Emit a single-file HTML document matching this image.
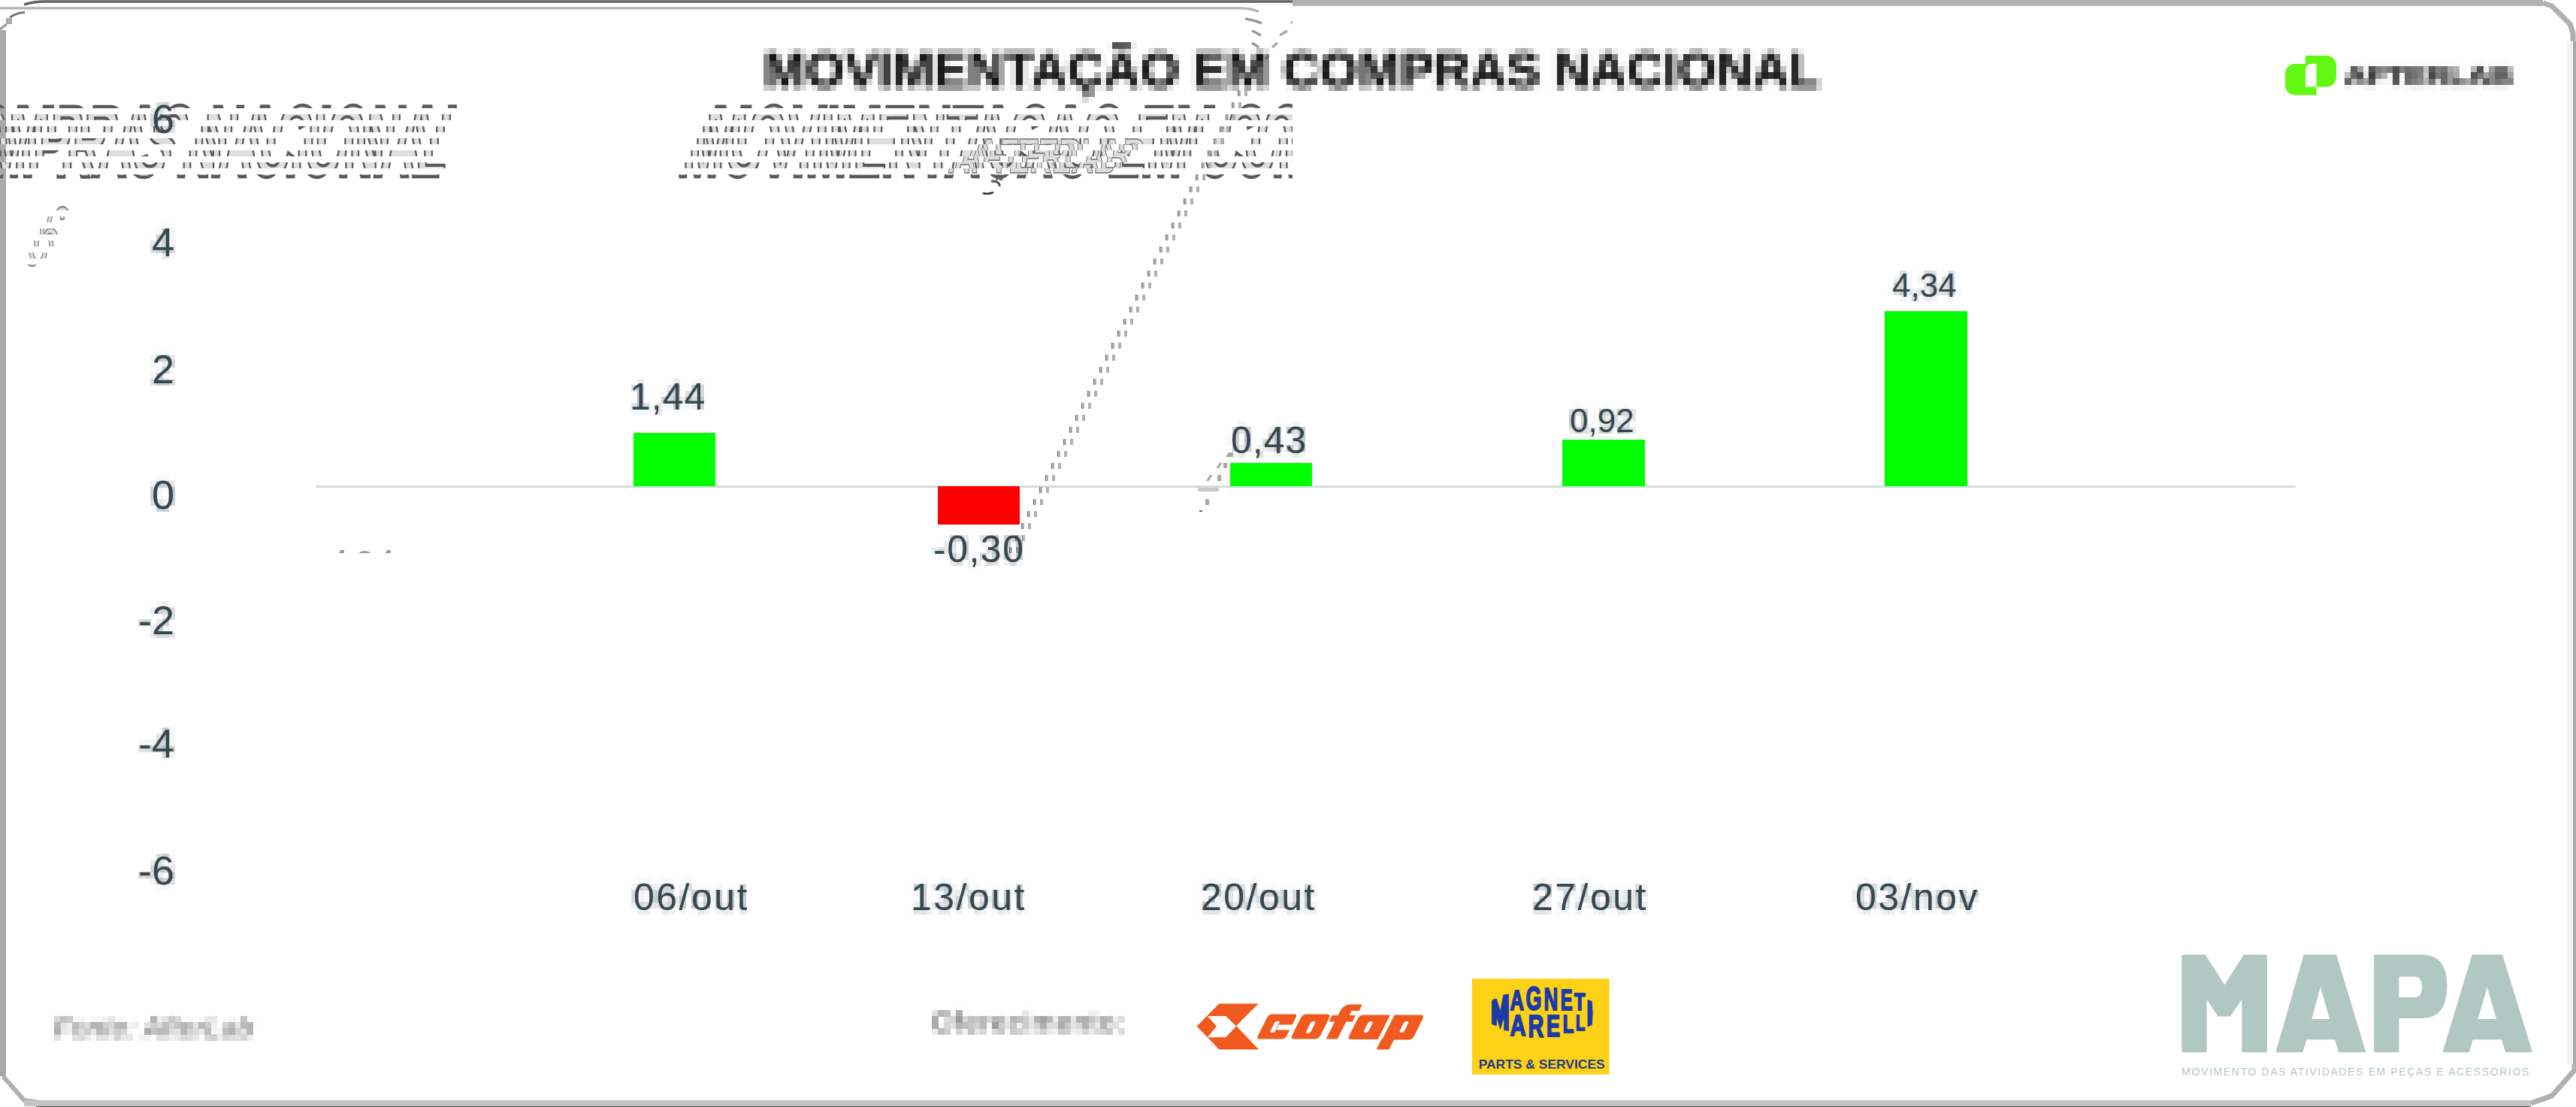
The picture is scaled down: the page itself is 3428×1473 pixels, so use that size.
<!DOCTYPE html>
<html><head><meta charset="utf-8">
<style>
html,body{margin:0;padding:0;background:#fff;}
body{width:3428px;height:1473px;position:relative;overflow:hidden;font-family:"Liberation Sans",sans-serif;}
.a{position:absolute;white-space:nowrap;}
.ylab{position:absolute;left:-300px;width:300px;text-align:right;font-size:54px;line-height:54px;color:#37484f;}
.dl{position:absolute;font-size:50px;line-height:50px;color:#37484f;white-space:nowrap;}
.xl{position:absolute;font-size:50px;line-height:50px;color:#37484f;letter-spacing:2.5px;white-space:nowrap;}
.bar{position:absolute;background:#00ff00;}
#glitch{position:absolute;left:0;top:0;width:1720px;height:300px;}
.gb{position:absolute;left:0;width:1720px;height:8px;overflow:hidden;}
.gb .g{position:absolute;font-size:67px;line-height:67px;font-weight:bold;color:#dedede;-webkit-text-stroke:2.2px #5a5a5a;white-space:nowrap;transform-origin:0 0;transform:scaleY(2.02);}
.g6{position:absolute;font-size:54px;line-height:54px;color:#dcdcdc;-webkit-text-stroke:1.2px #8a8a8a;transform-origin:0 0;transform:scaleY(2.05);}
.dash{position:absolute;width:4px;height:8px;background:#b0b0b0;}
</style></head>
<body>
<svg width="0" height="0" style="position:absolute;left:0;top:0">
 <filter id="px" x="0" y="0" width="100%" height="100%" color-interpolation-filters="sRGB">
  <feGaussianBlur in="SourceGraphic" stdDeviation="2.6" result="b"/>
  <feFlood x="4" y="4" width="1" height="1" flood-color="#000" result="f"/>
  <feComposite in="f" in2="f" width="8" height="8" result="c"/>
  <feTile in="c" result="t"/>
  <feComposite in="b" in2="t" operator="in" result="s"/>
  <feMorphology in="s" operator="dilate" radius="4"/>
 </filter>
</svg>
<!-- ===== borders ===== -->
<svg class="a" style="left:0;top:0" width="1720" height="100" viewBox="0 0 1720 100">
 <path d="M32 6 Q45 2 60 2 H1720" stroke="#636363" stroke-width="3.5" fill="none"/>
 <path d="M0 10.8 H1651 Q1665 11 1675 15.5" stroke="#b3b3b3" stroke-width="3.2" fill="none"/>
 <path d="M13 23 Q22 17 33 16.5" stroke="#777" stroke-width="3" fill="none"/>
 <rect x="8" y="24" width="8" height="8" fill="#a8a8a8"/>
 <path d="M0 39 L9 32" stroke="#999" stroke-width="3" fill="none"/>
 <path d="M1657 25 Q1670 27 1679 31 M1666 41 Q1673 44 1678 47 M1666 57 Q1671 60 1675 63" stroke="#999" stroke-width="3.5" fill="none"/>
 <path d="M1720 29 L1718 31 M1713 41 L1703 47 M1700 57 L1693 63 M1688 73 L1684 79" stroke="#aaa" stroke-width="3.5" fill="none"/>
 
</svg>
<div class="a" style="left:1720px;top:0;width:1664px;height:8px;background:#b2b2b2;"></div>
<svg class="a" style="left:3376px;top:0" width="52" height="60" viewBox="0 0 52 60"><path d="M8 4 L20 8 L44 32 L48 44 L48 56" stroke="#b0b0b0" stroke-width="7" fill="none"/></svg>
<div class="a" style="left:0;top:40px;width:8px;height:1392px;background:#a9a9a9;"></div>
<div class="a" style="left:3416px;top:55px;width:8px;height:1361px;background:#f2f2f2;"></div>
<div class="a" style="left:3424px;top:55px;width:4px;height:1361px;background:#aaaaaa;"></div>
<svg class="a" style="left:0;top:1424px" width="60" height="49" viewBox="0 0 60 49"><path d="M4 8 L32 40 L60 44" stroke="#b0b0b0" stroke-width="6" fill="none"/></svg>
<svg class="a" style="left:3360px;top:1410px" width="68" height="63" viewBox="0 0 68 63"><path d="M66 6 L66 14 L36 48 L8 58" stroke="#b0b0b0" stroke-width="7" fill="none"/></svg>
<div class="a" style="left:32px;top:1464px;width:3336px;height:8px;background:#c4c4c4;"></div>
<div class="a" style="left:48px;top:1472px;width:3320px;height:1px;background:#555;"></div>

<!-- ===== glitch copy of title ===== -->
<div id="glitch">
<div class="gb" style="top:136px"><div class="g" style="top:-16.2px;left:948px">MOVIMENTAÇÃO EM COMPRAS NACIONAL</div><div class="g" style="top:-16.2px;left:-772px">MOVIMENTAÇÃO EM COMPRAS NACIONAL</div></div>
<div class="gb" style="top:152px"><div class="g" style="top:-32.2px;left:940px">MOVIMENTAÇÃO EM COMPRAS NACIONAL</div><div class="g" style="top:-32.2px;left:-780px">MOVIMENTAÇÃO EM COMPRAS NACIONAL</div></div>
<div class="gb" style="top:168px"><div class="g" style="top:-48.2px;left:932px">MOVIMENTAÇÃO EM COMPRAS NACIONAL</div><div class="g" style="top:-48.2px;left:-788px">MOVIMENTAÇÃO EM COMPRAS NACIONAL</div></div>
<div class="gb" style="top:184px"><div class="g" style="top:-64.2px;left:924px">MOVIMENTAÇÃO EM COMPRAS NACIONAL</div><div class="g" style="top:-64.2px;left:-796px">MOVIMENTAÇÃO EM COMPRAS NACIONAL</div></div>
<div class="gb" style="top:200px"><div class="g" style="top:-80.2px;left:916px">MOVIMENTAÇÃO EM COMPRAS NACIONAL</div><div class="g" style="top:-80.2px;left:-804px">MOVIMENTAÇÃO EM COMPRAS NACIONAL</div></div>
<div class="gb" style="top:216px"><div class="g" style="top:-96.2px;left:908px">MOVIMENTAÇÃO EM COMPRAS NACIONAL</div><div class="g" style="top:-96.2px;left:-812px">MOVIMENTAÇÃO EM COMPRAS NACIONAL</div></div>
<div class="gb" style="top:232px"><div class="g" style="top:-112.2px;left:900px">MOVIMENTAÇÃO EM COMPRAS NACIONAL</div><div class="g" style="top:-112.2px;left:-820px">MOVIMENTAÇÃO EM COMPRAS NACIONAL</div></div>
</div>

<!-- ===== small glitch bits ===== -->
<div class="gb" style="top:272px;width:200px"><div class="g6" style="left:67px;top:-13.4px">6</div></div>
<div class="gb" style="top:288px;width:200px"><div class="g6" style="left:59px;top:-29.4px">6</div></div>
<div class="gb" style="top:304px;width:200px"><div class="g6" style="left:51px;top:-45.4px">6</div></div>
<div class="gb" style="top:320px;width:200px"><div class="g6" style="left:43px;top:-61.4px">6</div></div>
<div class="gb" style="top:336px;width:200px"><div class="g6" style="left:35px;top:-77.4px">6</div></div>
<div class="gb" style="top:352px;width:200px"><div class="g6" style="left:27px;top:-93.4px">6</div></div>
<div class="gb" style="top:368px;width:200px"><div class="g6" style="left:19px;top:-109.4px">6</div></div>
<div class="gb" style="top:184px;left:1240px;width:320px"><svg style="position:absolute;left:61px;top:0px" width="230" height="50" viewBox="0 0 230 25" preserveAspectRatio="none"><text x="0" y="23" font-family="Liberation Sans" font-weight="bold" font-size="32" fill="#dcdcdc" stroke="#707070" stroke-width="0.7" textLength="224" lengthAdjust="spacingAndGlyphs">AFTERLAB</text></svg></div>
<div class="gb" style="top:192px;left:1240px;width:320px"><svg style="position:absolute;left:53px;top:-8px" width="230" height="50" viewBox="0 0 230 25" preserveAspectRatio="none"><text x="0" y="23" font-family="Liberation Sans" font-weight="bold" font-size="32" fill="#dcdcdc" stroke="#707070" stroke-width="0.7" textLength="224" lengthAdjust="spacingAndGlyphs">AFTERLAB</text></svg></div>
<div class="gb" style="top:200px;left:1240px;width:320px"><svg style="position:absolute;left:45px;top:-16px" width="230" height="50" viewBox="0 0 230 25" preserveAspectRatio="none"><text x="0" y="23" font-family="Liberation Sans" font-weight="bold" font-size="32" fill="#dcdcdc" stroke="#707070" stroke-width="0.7" textLength="224" lengthAdjust="spacingAndGlyphs">AFTERLAB</text></svg></div>
<div class="gb" style="top:208px;left:1240px;width:320px"><svg style="position:absolute;left:37px;top:-24px" width="230" height="50" viewBox="0 0 230 25" preserveAspectRatio="none"><text x="0" y="23" font-family="Liberation Sans" font-weight="bold" font-size="32" fill="#dcdcdc" stroke="#707070" stroke-width="0.7" textLength="224" lengthAdjust="spacingAndGlyphs">AFTERLAB</text></svg></div>
<div class="gb" style="top:216px;left:1240px;width:320px"><svg style="position:absolute;left:29px;top:-32px" width="230" height="50" viewBox="0 0 230 25" preserveAspectRatio="none"><text x="0" y="23" font-family="Liberation Sans" font-weight="bold" font-size="32" fill="#dcdcdc" stroke="#707070" stroke-width="0.7" textLength="224" lengthAdjust="spacingAndGlyphs">AFTERLAB</text></svg></div>
<div class="gb" style="top:224px;left:1240px;width:320px"><svg style="position:absolute;left:21px;top:-40px" width="230" height="50" viewBox="0 0 230 25" preserveAspectRatio="none"><text x="0" y="23" font-family="Liberation Sans" font-weight="bold" font-size="32" fill="#dcdcdc" stroke="#707070" stroke-width="0.7" textLength="224" lengthAdjust="spacingAndGlyphs">AFTERLAB</text></svg></div>
<svg class="a" style="left:1590px;top:600px" width="60" height="90" viewBox="1590 600 60 90">
 <g fill="#a8a8a8">
 <polygon points="1635,602 1641,602 1641,608 1631,608"/>
 <polygon points="1623,616 1626.6,616 1622,623 1618.5,623"/><rect x="1628" y="616" width="5" height="7"/>
 <polygon points="1610,632 1613.6,632 1609,640 1605,640"/><rect x="1620" y="632" width="5" height="8"/>
 <rect x="1594" y="649" width="28" height="5" fill="#c8c8c8"/>
 <rect x="1604" y="664" width="5" height="8"/>
 <rect x="1596" y="679" width="4" height="2" fill="#666"/>
 </g>
</svg>
<svg class="a" style="left:440px;top:725px" width="90" height="15" viewBox="440 725 90 15">
 <g fill="#999"><polygon points="453,732 458,732 458,736 451,736"/><path d="M477 736 Q485 730 494 736 Z"/><polygon points="515,732 520,732 520,736 513,736"/></g>
</svg>
<svg class="a" style="left:1300px;top:238px" width="40" height="24" viewBox="1300 238 40 24">
 <path d="M1319 241 Q1331 241 1330 248" stroke="#555" stroke-width="3" fill="none"/>
 <path d="M1308 257 Q1314 259 1322 256" stroke="#333" stroke-width="2.5" fill="none"/>
</svg>

<!-- ===== title ===== -->
<div class="a" id="title" style="left:1016px;top:56px;padding:3px 16px 13px 0;font-size:67px;line-height:67px;font-weight:bold;color:#111;filter:url(#px);">MOVIMENTAÇÃO EM COMPRAS NACIONAL</div>

<!-- ===== afterlab logo ===== -->
<svg class="a" style="left:3041px;top:74px" width="68" height="53" viewBox="0 0 68 53">
<path fill="#62f812" d="M13 11 H41.6 V52.5 H13 A13 13 0 0 1 0 39.5 V24 A13 13 0 0 1 13 11 Z"/>
<path fill="#62f812" d="M27 0 H55 A13 13 0 0 1 68 13 V28.6 A13 13 0 0 1 55 41.6 H27 Z"/>
<path fill="#fff" d="M35 11 H41.6 V41.6 H27 V19 A8 8 0 0 1 35 11 Z"/>
</svg>
<svg class="a" style="left:3120px;top:80px;filter:url(#px)" width="240" height="48" viewBox="0 0 240 48"><text x="0" y="31.5" font-family="Liberation Sans" font-weight="bold" font-size="32" fill="#2a2a2a" stroke="#2a2a2a" stroke-width="0.8" textLength="224" lengthAdjust="spacingAndGlyphs">AFTERLAB</text></svg>

<!-- ===== y axis ===== -->
<div class="a" style="left:232px;top:0;">
<div class="ylab" style="top:131px">6</div>
<div class="ylab" style="top:295px">4</div>
<div class="ylab" style="top:464px">2</div>
<div class="ylab" style="top:631px">0</div>
<div class="ylab" style="top:798px">-2</div>
<div class="ylab" style="top:962px">-4</div>
<div class="ylab" style="top:1131px">-6</div>
</div>

<!-- ===== zero line ===== -->
<div class="a" style="left:420px;top:646px;width:2635px;height:3px;background:#d3dedb;"></div>

<!-- ===== dotted double line (glitch) ===== -->
<div id="dashes">
<div class="dash" style="left:1647px;top:120px;border-left:1px solid #666;width:3px"></div><div class="dash" style="left:1656px;top:120px"></div>
<div class="dash" style="left:1639px;top:136px;border-left:1px solid #666;width:3px"></div><div class="dash" style="left:1648px;top:136px"></div>
<div class="dash" style="left:1631px;top:152px;border-left:1px solid #666;width:3px"></div><div class="dash" style="left:1640px;top:152px"></div>
<div class="dash" style="left:1623px;top:168px;border-left:1px solid #666;width:3px"></div><div class="dash" style="left:1632px;top:168px"></div>
<div class="dash" style="left:1615px;top:184px;border-left:1px solid #666;width:3px"></div><div class="dash" style="left:1624px;top:184px"></div>
<div class="dash" style="left:1607px;top:200px;border-left:1px solid #666;width:3px"></div><div class="dash" style="left:1616px;top:200px"></div>
<div class="dash" style="left:1599px;top:216px;border-left:1px solid #666;width:3px"></div><div class="dash" style="left:1608px;top:216px"></div>
<div class="dash" style="left:1591px;top:232px;border-left:1px solid #666;width:3px"></div><div class="dash" style="left:1600px;top:232px"></div>
<div class="dash" style="left:1583px;top:248px;border-left:1px solid #666;width:3px"></div><div class="dash" style="left:1592px;top:248px"></div>
<div class="dash" style="left:1575px;top:264px;border-left:1px solid #666;width:3px"></div><div class="dash" style="left:1584px;top:264px"></div>
<div class="dash" style="left:1567px;top:280px;border-left:1px solid #666;width:3px"></div><div class="dash" style="left:1576px;top:280px"></div>
<div class="dash" style="left:1559px;top:296px;border-left:1px solid #666;width:3px"></div><div class="dash" style="left:1568px;top:296px"></div>
<div class="dash" style="left:1551px;top:312px;border-left:1px solid #666;width:3px"></div><div class="dash" style="left:1560px;top:312px"></div>
<div class="dash" style="left:1543px;top:328px;border-left:1px solid #666;width:3px"></div><div class="dash" style="left:1552px;top:328px"></div>
<div class="dash" style="left:1535px;top:344px;border-left:1px solid #666;width:3px"></div><div class="dash" style="left:1544px;top:344px"></div>
<div class="dash" style="left:1527px;top:360px;border-left:1px solid #666;width:3px"></div><div class="dash" style="left:1536px;top:360px"></div>
<div class="dash" style="left:1519px;top:376px;border-left:1px solid #666;width:3px"></div><div class="dash" style="left:1528px;top:376px"></div>
<div class="dash" style="left:1511px;top:392px;border-left:1px solid #666;width:3px"></div><div class="dash" style="left:1520px;top:392px"></div>
<div class="dash" style="left:1503px;top:408px;border-left:1px solid #666;width:3px"></div><div class="dash" style="left:1512px;top:408px"></div>
<div class="dash" style="left:1495px;top:424px;border-left:1px solid #666;width:3px"></div><div class="dash" style="left:1504px;top:424px"></div>
<div class="dash" style="left:1487px;top:440px;border-left:1px solid #666;width:3px"></div><div class="dash" style="left:1496px;top:440px"></div>
<div class="dash" style="left:1479px;top:456px;border-left:1px solid #666;width:3px"></div><div class="dash" style="left:1488px;top:456px"></div>
<div class="dash" style="left:1471px;top:472px;border-left:1px solid #666;width:3px"></div><div class="dash" style="left:1480px;top:472px"></div>
<div class="dash" style="left:1463px;top:488px;border-left:1px solid #666;width:3px"></div><div class="dash" style="left:1472px;top:488px"></div>
<div class="dash" style="left:1455px;top:504px;border-left:1px solid #666;width:3px"></div><div class="dash" style="left:1464px;top:504px"></div>
<div class="dash" style="left:1447px;top:520px;border-left:1px solid #666;width:3px"></div><div class="dash" style="left:1456px;top:520px"></div>
<div class="dash" style="left:1439px;top:536px;border-left:1px solid #666;width:3px"></div><div class="dash" style="left:1448px;top:536px"></div>
<div class="dash" style="left:1431px;top:552px;border-left:1px solid #666;width:3px"></div><div class="dash" style="left:1440px;top:552px"></div>
<div class="dash" style="left:1423px;top:568px;border-left:1px solid #666;width:3px"></div><div class="dash" style="left:1432px;top:568px"></div>
<div class="dash" style="left:1415px;top:584px;border-left:1px solid #666;width:3px"></div><div class="dash" style="left:1424px;top:584px"></div>
<div class="dash" style="left:1407px;top:600px;border-left:1px solid #666;width:3px"></div><div class="dash" style="left:1416px;top:600px"></div>
<div class="dash" style="left:1399px;top:616px;border-left:1px solid #666;width:3px"></div><div class="dash" style="left:1408px;top:616px"></div>
<div class="dash" style="left:1391px;top:632px;border-left:1px solid #666;width:3px"></div><div class="dash" style="left:1400px;top:632px"></div>
<div class="dash" style="left:1383px;top:648px;border-left:1px solid #666;width:3px"></div><div class="dash" style="left:1392px;top:648px"></div>
<div class="dash" style="left:1375px;top:664px;border-left:1px solid #666;width:3px"></div><div class="dash" style="left:1384px;top:664px"></div>
<div class="dash" style="left:1367px;top:680px;border-left:1px solid #666;width:3px"></div><div class="dash" style="left:1376px;top:680px"></div>
<div class="dash" style="left:1359px;top:696px;border-left:1px solid #666;width:3px"></div><div class="dash" style="left:1368px;top:696px"></div>
<div class="dash" style="left:1351px;top:712px;border-left:1px solid #666;width:3px"></div><div class="dash" style="left:1360px;top:712px"></div>
<div class="dash" style="left:1343px;top:728px;border-left:1px solid #666;width:3px"></div><div class="dash" style="left:1352px;top:728px"></div>
</div>

<!-- ===== bars ===== -->
<div class="bar" style="left:843px;top:576px;width:109px;height:71px;"></div>
<div class="bar" style="left:1248px;top:647px;width:109px;height:51px;background:#ff0000;"></div>
<div class="bar" style="left:1637px;top:616px;width:109px;height:31px;"></div>
<div class="bar" style="left:2079px;top:585px;width:110px;height:62px;"></div>
<div class="bar" style="left:2508px;top:414px;width:110px;height:233px;"></div>

<!-- ===== data labels ===== -->
<div class="dl" style="left:838px;top:503px;letter-spacing:1px;">1,44</div>
<div class="dl" style="left:1242px;top:706px;letter-spacing:1.5px;">-0,30</div>
<div class="dl" style="left:1638px;top:561px;letter-spacing:1px;">0,43</div>
<div class="dl" style="left:2089px;top:538px;font-size:44px;line-height:44px;">0,92</div>
<div class="dl" style="left:2518px;top:358px;font-size:44px;line-height:44px;">4,34</div>

<!-- ===== x labels ===== -->
<div class="xl" style="left:843px;top:1169px;">06/out</div>
<div class="xl" style="left:1212px;top:1169px;">13/out</div>
<div class="xl" style="left:1598px;top:1169px;">20/out</div>
<div class="xl" style="left:2039px;top:1169px;">27/out</div>
<div class="xl" style="left:2469px;top:1169px;">03/nov</div>

<!-- pixelated halo copy of labels -->
<div id="pxo" style="position:absolute;left:0;top:0;width:3428px;height:1473px;filter:url(#px);opacity:0.5;">
<div class="a" style="left:232px;top:0;">
<div class="ylab" style="top:131px">6</div>
<div class="ylab" style="top:295px">4</div>
<div class="ylab" style="top:464px">2</div>
<div class="ylab" style="top:631px">0</div>
<div class="ylab" style="top:798px">-2</div>
<div class="ylab" style="top:962px">-4</div>
<div class="ylab" style="top:1131px">-6</div>
</div>
<div class="dl" style="left:838px;top:503px;letter-spacing:1px;">1,44</div>
<div class="dl" style="left:1242px;top:706px;letter-spacing:1.5px;">-0,30</div>
<div class="dl" style="left:1638px;top:561px;letter-spacing:1px;">0,43</div>
<div class="dl" style="left:2089px;top:538px;font-size:44px;line-height:44px;">0,92</div>
<div class="dl" style="left:2518px;top:358px;font-size:44px;line-height:44px;">4,34</div>
<div class="xl" style="left:843px;top:1169px;">06/out</div>
<div class="xl" style="left:1212px;top:1169px;">13/out</div>
<div class="xl" style="left:1598px;top:1169px;">20/out</div>
<div class="xl" style="left:2039px;top:1169px;">27/out</div>
<div class="xl" style="left:2469px;top:1169px;">03/nov</div>
</div>

<!-- ===== footer ===== -->
<div class="a" id="fonte" style="left:72px;top:1344px;padding:5px 16px 12px 0;filter:url(#px);font-size:37px;line-height:37px;font-style:italic;color:#6a6a6a;letter-spacing:0.8px;">Fonte: AfterLab</div>
<div class="a" id="ofer" style="left:1240px;top:1336px;padding:6px 16px 12px 0;filter:url(#px);font-size:37px;line-height:37px;color:#5a5a5a;letter-spacing:2px;">Oferecimento:</div>

<!-- cofap -->
<svg class="a" style="left:1580px;top:1320px" width="120" height="90" viewBox="0 0 1476 1107">
 <path fill="#f15a1f" fill-rule="evenodd" d="M520 190 L1165 190 L800 555 L1170 940 L520 940 L155 560 Z M330 395 L630 395 L800 560 L630 740 L330 740 L480 560 Z"/>
</svg>
<svg class="a" style="left:1670px;top:1325px" width="230" height="80" viewBox="0 0 2576 896">
 <g fill="#f15a1f" transform="translate(322.5,0) skewX(-26.57)">
  <path fill-rule="evenodd" d="M80 275 H400 Q450 275 450 325 V430 H250 V510 H450 V595 Q450 645 400 645 H70 Q20 645 20 595 V325 Q20 275 80 275 Z M170 400 Q170 380 200 380 H240 V545 H200 Q170 545 170 525 Z"/>
  <path fill-rule="evenodd" d="M585 275 H890 Q950 275 950 335 V585 Q950 645 890 645 H585 Q525 645 525 585 V335 Q525 275 585 275 Z M743 380 Q778 380 778 415 V525 Q778 560 743 560 Q708 560 708 525 V415 Q708 380 743 380 Z"/>
  <path d="M1060 645 V240 Q1060 130 1170 130 H1343 V225 H1240 Q1230 225 1230 245 V290 H1323 V385 H1230 V645 Z M973 290 H1060 V385 H973 Z"/>
  <path fill-rule="evenodd" d="M1440 285 H1835 V650 H1440 Q1380 650 1380 590 V345 Q1380 285 1440 285 Z M1600 380 Q1635 380 1635 415 V515 Q1635 550 1600 550 Q1565 550 1565 515 V415 Q1565 380 1600 380 Z"/>
  <path fill-rule="evenodd" d="M1900 285 H2290 Q2350 285 2350 345 V595 Q2350 655 2290 655 H2077 V800 H1887 V645 H1900 Z M2133 380 Q2168 380 2168 415 V515 Q2168 550 2133 550 Q2098 550 2098 515 V415 Q2098 380 2133 380 Z"/>
 </g>
</svg>

<!-- magneti marelli -->
<svg class="a" style="left:1950px;top:1295px" width="200" height="140" viewBox="0 0 200 140">
 <rect x="8.9" y="7.3" width="182.7" height="127.4" fill="#fcd116"/>
 <g fill="#1c3aa8" stroke="#1c3aa8" stroke-width="2" stroke-linejoin="round" font-family="Liberation Sans" font-weight="bold">
  <path stroke-width="0.8" d="M35.4 37 Q35.6 34.8 41.4 34.1 L46.5 50.9 L50.9 28.7 L57.6 28.1 L57.6 76.3 L51.7 75.8 L51.7 57.4 L46.5 74.2 L41.4 57.4 L41.4 69.8 L35.4 67.7 Z"/>
  <text x="59.6" y="49.3" font-size="36.1" textLength="18.4" lengthAdjust="spacingAndGlyphs">A</text>
  <text x="80.6" y="49.3" font-size="43.5" textLength="20.9" lengthAdjust="spacingAndGlyphs">G</text>
  <text x="104.4" y="49.3" font-size="41.9" textLength="18.8" lengthAdjust="spacingAndGlyphs">N</text>
  <text x="126.8" y="49.3" font-size="38.1" textLength="15.9" lengthAdjust="spacingAndGlyphs">E</text>
  <text x="144.9" y="49.3" font-size="30.9" textLength="14.4" lengthAdjust="spacingAndGlyphs">T</text>
  <text x="59.6" y="82.9" font-size="39.3" textLength="21.0" lengthAdjust="spacingAndGlyphs">A</text>
  <text x="83.5" y="85.0" font-size="42.3" textLength="20.9" lengthAdjust="spacingAndGlyphs">R</text>
  <text x="108.0" y="84.4" font-size="41.4" textLength="18.1" lengthAdjust="spacingAndGlyphs">E</text>
  <text x="129.7" y="78.6" font-size="33.0" textLength="14.5" lengthAdjust="spacingAndGlyphs">L</text>
  <text x="147.0" y="75.7" font-size="28.8" textLength="12.3" lengthAdjust="spacingAndGlyphs">L</text>
  <path stroke-width="0.8" d="M163 35.5 L168.4 37.5 Q170 53 168.4 68.5 L163 71 Z"/>
 </g>
 <text x="17.7" y="126.5" fill="#1e3a8c" font-family="Liberation Sans" font-weight="bold" font-size="16.5" textLength="168" lengthAdjust="spacingAndGlyphs">PARTS &amp; SERVICES</text>
</svg>

<!-- MAPA -->
<svg class="a" style="left:2880px;top:1250px" width="520" height="200" viewBox="0 0 2576 991">
 <g fill="#b1c8c2">
  <path d="M130 100 H270 L398 298 L525 100 H665 Q678 100 678 113 V732 Q678 745 665 745 H512 V395 L435 508 H355 L280 395 V745 H128 Q115 745 115 732 V113 Q115 100 130 100 Z"/>
  <path fill-rule="evenodd" d="M920 100 H1135 L1330 745 H1150 L1125 660 H940 L912 745 H735 Z M972 525 H1090 L1030 315 Z"/>
  <path fill-rule="evenodd" d="M1383 100 H1700 Q1865 100 1865 310 Q1865 520 1700 520 H1548 V745 H1396 Q1383 745 1383 732 Z M1548 245 H1650 Q1700 245 1700 313 Q1700 382 1650 382 H1548 Z"/>
  <path fill-rule="evenodd" d="M2030 100 H2230 L2428 745 H2250 L2225 660 H2035 L2010 745 H1835 Z M2068 525 H2190 L2130 315 Z"/>
 </g>
 <text x="115" y="898" fill="#b1c8c2" font-family="Liberation Sans" font-size="70" textLength="2290" lengthAdjust="spacing">MOVIMENTO DAS ATIVIDADES EM PEÇAS E ACESSORIOS</text>
</svg>


</body></html>
